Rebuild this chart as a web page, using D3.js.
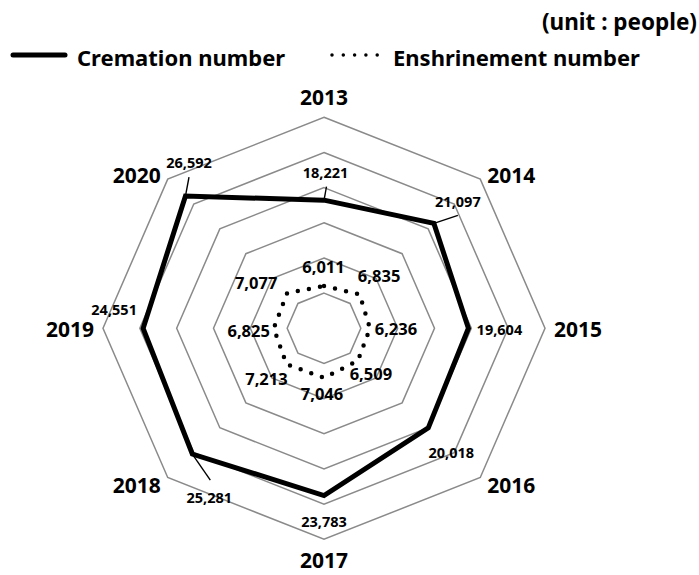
<!DOCTYPE html>
<html>
<head>
<meta charset="utf-8">
<script src="https://cdn.jsdelivr.net/npm/d3@7"></script>
<style>
  body { margin: 0; background: #fff; }
  svg { display: block; font-family: "Noto Sans", "Open Sans", sans-serif; }
</style>
</head>
<body>
<svg id="chart" width="699" height="575"></svg>
<script>
const years = ["2013", "2014", "2015", "2016", "2017", "2018", "2019", "2020"];
const cremation = [18221, 21097, 19604, 20018, 23783, 25281, 24551, 26592];
const enshrinement = [6011, 6835, 6236, 6509, 7046, 7213, 6825, 7077];
const ringTicks = [5000, 10000, 15000, 20000, 25000, 30000];

// label nudges, relative to the point they describe
const yearOffsets = [[0, -20], [31, -4], [33, 1], [31, 7.5], [0, 21], [-31, 7.5], [-33, 1], [-31, -4]];
const cremOffsets = [[1.5, -28], [24, -22], [31, 1], [23, 24], [0, 25.5], [17, 42.5], [-29, -19], [3.5, -34]];
const cremLeaders = [[2.5, -13.5], [24, -8], null, null, null, [18, 26], null, [3.5, -19]];
const enshOffsets = [[-0.5, -19.5], [19.5, -19], [26, 0], [13, 13], [-2, 15.5], [-20, 14.5], [-25, 2.5], [-31, -11]];

const cx = 324, cy = 328.3;
const rX = d3.scaleLinear([0, 30000], [0, 221]);
const rY = d3.scaleLinear([0, 30000], [0, 211]);
const angle = d3.scaleLinear([0, years.length], [0, 2 * Math.PI]);

const px = (v, i) => cx + rX(v) * Math.sin(angle(i));
const py = (v, i) => cy - rY(v) * Math.cos(angle(i));
const fmt = d3.format(",");

const svg = d3.select("#chart");
const line = d3.line().x((d) => d[0]).y((d) => d[1]).curve(d3.curveLinearClosed);

// grid rings
svg.append("g")
  .selectAll("path")
  .data(ringTicks)
  .join("path")
  .attr("d", (t) => line(years.map((_, i) => [px(t, i), py(t, i)])))
  .attr("fill", "none")
  .attr("stroke", "#8a8a8a")
  .attr("stroke-width", 1.5);

// series
svg.append("path")
  .attr("d", line(enshrinement.map((v, i) => [px(v, i), py(v, i)])))
  .attr("fill", "none")
  .attr("stroke", "#000")
  .attr("stroke-width", 4.5)
  .attr("stroke-linecap", "round")
  .attr("stroke-dasharray", "0 11.3");

svg.append("path")
  .attr("d", line(cremation.map((v, i) => [px(v, i), py(v, i)])))
  .attr("fill", "none")
  .attr("stroke", "#000")
  .attr("stroke-width", 5)
  .attr("stroke-linejoin", "miter");

// leader lines
svg.append("g")
  .selectAll("line")
  .data(cremation.map((v, i) => ({ v, i, l: cremLeaders[i] })).filter((d) => d.l))
  .join("line")
  .attr("x1", (d) => px(d.v, d.i))
  .attr("y1", (d) => py(d.v, d.i))
  .attr("x2", (d) => px(d.v, d.i) + d.l[0])
  .attr("y2", (d) => py(d.v, d.i) + d.l[1])
  .attr("stroke", "#000")
  .attr("stroke-width", 1.4);

// value labels
svg.append("g")
  .selectAll("text")
  .data(cremation)
  .join("text")
  .attr("x", (v, i) => px(v, i) + cremOffsets[i][0])
  .attr("y", (v, i) => py(v, i) + cremOffsets[i][1])
  .attr("text-anchor", "middle")
  .attr("dominant-baseline", "central")
  .attr("font-size", 14.5)
  .attr("font-weight", "bold")
  .text(fmt);

svg.append("g")
  .selectAll("text")
  .data(enshrinement)
  .join("text")
  .attr("x", (v, i) => px(v, i) + enshOffsets[i][0])
  .attr("y", (v, i) => py(v, i) + enshOffsets[i][1])
  .attr("text-anchor", "middle")
  .attr("dominant-baseline", "central")
  .attr("font-size", 16.5)
  .attr("font-weight", "bold")
  .text(fmt);

// year labels
const outer = d3.max(ringTicks);
svg.append("g")
  .selectAll("text")
  .data(years)
  .join("text")
  .attr("x", (d, i) => px(outer, i) + yearOffsets[i][0])
  .attr("y", (d, i) => py(outer, i) + yearOffsets[i][1])
  .attr("text-anchor", "middle")
  .attr("dominant-baseline", "central")
  .attr("font-size", 21)
  .attr("font-weight", "bold")
  .text((d) => d);

// legend
const legend = svg.append("g");
legend.append("line")
  .attr("x1", 13).attr("x2", 65).attr("y1", 55).attr("y2", 55)
  .attr("stroke", "#000").attr("stroke-width", 5).attr("stroke-linecap", "round");
legend.append("text")
  .attr("x", 77).attr("y", 57)
  .attr("dominant-baseline", "central")
  .attr("font-size", 22).attr("font-weight", "bold")
  .text("Cremation number");
legend.append("line")
  .attr("x1", 332).attr("x2", 378).attr("y1", 55).attr("y2", 55)
  .attr("stroke", "#000").attr("stroke-width", 3.5).attr("stroke-linecap", "round")
  .attr("stroke-dasharray", "0 11.3");
legend.append("text")
  .attr("x", 393).attr("y", 57)
  .attr("dominant-baseline", "central")
  .attr("font-size", 22).attr("font-weight", "bold")
  .text("Enshrinement number");

svg.append("text")
  .attr("x", 697).attr("y", 21)
  .attr("text-anchor", "end")
  .attr("dominant-baseline", "central")
  .attr("font-size", 22.5).attr("font-weight", "bold")
  .text("(unit : people)");
</script>
</body>
</html>
